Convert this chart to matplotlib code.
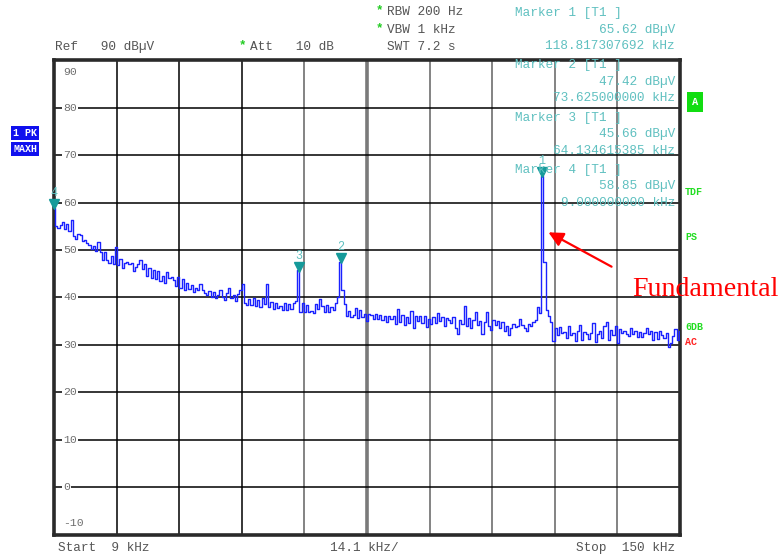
import numpy as np
import matplotlib
matplotlib.use("Agg")
import matplotlib.pyplot as plt
from matplotlib.transforms import ScaledTranslation

W, H = 784, 558
MONO = "Liberation Mono"
GREY_TXT = "#555555"
TICK_TXT = "#6e6e6e"
TEAL = "#5fc0c0"
TRACE = "#1a22ff"

# sweep: 9 ... 150 kHz, one reading per 0.5 kHz (levels in dBuV)
freq_start, freq_stop, freq_step = 9.0, 150.0, 0.5
level = [
    58.9, 55.0, 54.6, 55.2, 56.0, 54.5, 55.5, 54.0, 56.3, 53.0,
    52.4, 53.5, 53.2, 52.0, 52.2, 51.5, 51.0, 50.2, 50.8, 49.8,
    51.8, 49.5, 48.0, 49.5, 48.0, 47.2, 48.7, 47.0, 50.6, 46.8,
    48.2, 46.2, 47.2, 47.5, 47.0, 47.3, 45.6, 46.5, 47.0, 48.0,
    46.0, 47.0, 44.6, 46.2, 44.2, 45.8, 44.0, 45.5, 43.5, 44.5,
    43.0, 45.4, 44.2, 44.3, 43.6, 42.4, 44.3, 42.0, 43.8, 41.5,
    43.0, 41.8, 42.6, 41.2, 42.0, 41.6, 42.8, 41.5, 41.0, 40.5,
    41.4, 40.2, 41.2, 39.8, 40.5, 41.6, 40.0, 39.5, 41.0, 42.0,
    39.8, 40.6, 39.2, 40.8, 41.5, 42.8, 38.8, 38.5, 39.6, 38.4,
    39.8, 38.3, 39.5, 38.0, 39.8, 38.6, 42.9, 38.0, 39.0, 37.6,
    38.8, 37.8, 38.2, 37.4, 38.8, 37.3, 38.6, 37.6, 38.9, 39.2,
    45.7, 37.0, 38.8, 36.9, 38.5, 37.0, 37.2, 36.8, 38.6, 37.5,
    39.6, 38.2, 37.0, 38.5, 36.9, 38.0, 37.3, 38.8, 40.0, 47.4,
    41.5, 38.6, 36.0, 37.2, 35.9, 36.4, 37.8, 35.6, 37.3, 35.8,
    36.6, 35.0, 36.5, 36.4, 35.4, 36.6, 35.5, 36.3, 35.2, 36.2,
    34.9, 36.2, 35.5, 36.1, 34.5, 37.5, 34.8, 36.3, 34.2, 35.8,
    34.6, 37.2, 33.5, 36.0, 35.0, 36.2, 34.6, 36.0, 33.8, 35.5,
    34.4, 35.8, 34.6, 36.8, 35.0, 35.9, 34.0, 35.7, 35.2, 34.6,
    35.9, 33.6, 32.4, 35.2, 34.5, 38.3, 34.0, 35.6, 33.5, 35.2,
    37.0, 34.2, 35.0, 32.2, 34.8, 36.9, 34.0, 33.2, 35.3, 34.1,
    35.0, 33.6, 34.8, 33.0, 34.0, 32.1, 33.5, 34.5, 33.7, 34.0,
    35.4, 34.2, 33.5, 33.0, 34.4, 33.9, 34.8, 35.3, 38.0, 36.8,
    65.6, 47.4, 37.4, 36.0, 34.8, 30.9, 33.5, 32.0, 33.8, 32.5,
    32.8, 31.5, 34.0, 32.0, 32.6, 30.8, 33.0, 34.2, 31.0, 32.8,
    32.2, 31.2, 32.6, 34.6, 30.6, 32.4, 33.0, 31.4, 34.0, 34.9,
    31.0, 33.2, 32.0, 34.0, 30.3, 33.4, 32.6, 33.0, 32.4, 31.8,
    33.6, 32.2, 33.0, 31.6, 32.8, 31.6, 32.5, 33.5, 32.2, 33.0,
    31.0, 32.8, 31.2, 33.0, 32.0, 31.4, 32.6, 29.6, 30.4, 31.8,
    33.4, 31.0, 33.0,
]
freq = freq_start + freq_step * np.arange(len(level))

marker_id = ["1", "2", "3", "4"]
marker_freq = [118.817307692, 73.625, 64.134615385, 9.0]
marker_level = [65.62, 47.42, 45.66, 58.85]
marker_freq_txt = ["118.817307692 kHz", "73.625000000 kHz",
                   "64.134615385 kHz", "9.000000000 kHz"]

y_ticks = [90, 80, 70, 60, 50, 40, 30, 20, 10, 0, -10]


def fx(x):
    return x / W


def fy(y):
    return 1 - y / H


fig = plt.figure(figsize=(W / 100, H / 100), dpi=100)
ax = fig.add_axes([fx(54), fy(534.5), 626 / W, 474 / H])
ax.set_xlim(freq_start, freq_stop)
ax.set_ylim(-10, 90)
ax.set_xticks([])
ax.set_yticks([])
for s in ax.spines.values():
    s.set_linewidth(2.6)
    s.set_color("#2a2a2a")

# graticule: 10 divisions each way
xdiv = np.linspace(freq_start, freq_stop, 11)[1:-1]
for i, xv in enumerate(xdiv):
    if i < 3:
        ax.axvline(xv, color="black", lw=1.1, zorder=1)
    elif i == 4:
        ax.axvline(xv, color="#7a7a7a", lw=2.6, zorder=1)
    else:
        ax.axvline(xv, color="#7a7a7a", lw=1.3, zorder=1)
for yv in y_ticks[1:-1]:
    ax.axhline(yv, color="black", lw=1.1, zorder=1)

for yv in y_ticks:
    if yv == 90:
        yy, va = 88.6, "top"
    elif yv == -10:
        yy, va = -8.6, "bottom"
    else:
        yy, va = yv, "center"
    ax.text(11.0, yy, str(yv), family=MONO, fontsize=8.2, color=TICK_TXT,
            ha="left", va=va, zorder=3,
            bbox=dict(boxstyle="square,pad=0.12", fc="white", ec="none")
            if va == "center" else None)

ax.plot(freq, level, color=TRACE, lw=1.0, drawstyle="steps-mid", zorder=4)

# markers
up = ScaledTranslation(0, 4 / 100, fig.dpi_scale_trans)
lab = ScaledTranslation(0, 15 / 100, fig.dpi_scale_trans)
ax.plot(marker_freq, marker_level, "v", color="#159a9a", ms=7,
        transform=ax.transData + up, zorder=5, clip_on=False)
for mid, mf, ml in zip(marker_id, marker_freq, marker_level):
    ax.text(mf, ml, mid, transform=ax.transData + lab, family=MONO,
            fontsize=8.5, color=TEAL, ha="center", va="center", zorder=5)

# header texts
hdr = dict(family=MONO, fontsize=9.2, color=GREY_TXT, va="center")
fig.text(fx(55), fy(47), "Ref   90 dB\u00b5V", **hdr)
fig.text(fx(250), fy(47), "Att   10 dB", **hdr)
fig.text(fx(387), fy(12), "RBW 200 Hz", **hdr)
fig.text(fx(387), fy(30), "VBW 1 kHz", **hdr)
fig.text(fx(387), fy(47), "SWT 7.2 s", **hdr)
for xs, ys in [(242, 47), (379, 12), (379, 30)]:
    fig.text(fx(xs), fy(ys - 2), "*", family=MONO, fontsize=9,
             color="#22cc22", ha="center", va="center", weight="bold")

for k, (mid, ml, mt) in enumerate(zip(marker_id, marker_level, marker_freq_txt)):
    y0 = 13 + 52.3 * k
    mk = dict(family=MONO, fontsize=9.2, color=TEAL, va="center", zorder=6)
    fig.text(fx(515), fy(y0), f"Marker {mid} [T1 ]", ha="left", **mk)
    fig.text(fx(675), fy(y0 + 16.5), f"{ml:.2f} dB\u00b5V", ha="right", **mk)
    fig.text(fx(675), fy(y0 + 33), mt, ha="right", **mk)

# bottom line
bot = dict(family=MONO, fontsize=9.2, color=GREY_TXT, va="center")
fig.text(fx(58), fy(548), "Start  9 kHz", ha="left", **bot)
fig.text(fx(330), fy(548), "14.1 kHz/", ha="left", **bot)
fig.text(fx(675), fy(548), "Stop  150 kHz", ha="right", **bot)

# side badges
side = dict(family=MONO, fontsize=7.2, weight="bold", va="center", ha="left")
fig.text(fx(13), fy(133), "1 PK", color="white",
         bbox=dict(boxstyle="square,pad=0.2", fc="#1010ee", ec="none"), **side)
fig.text(fx(13), fy(149), "MAXH", color="white",
         bbox=dict(boxstyle="square,pad=0.2", fc="#1010ee", ec="none"), **side)
fig.text(fx(695), fy(102), "A", color="white", ha="center", va="center",
         family=MONO, fontsize=7.5, weight="bold",
         bbox=dict(boxstyle="square,pad=0.45", fc="#11dd11", ec="none"))
fig.text(fx(685), fy(192), "TDF", color="#22dd22", **side)
fig.text(fx(685), fy(237), "PS", color="#22dd22", **side)
fig.text(fx(685), fy(327), "6DB", color="#22dd22", **side)
fig.text(fx(685), fy(342), "AC", color="#ff2020", **side)

# annotation
fig.add_artist(matplotlib.patches.FancyArrowPatch(
    (fx(614), fy(268)), (fx(546), fy(231)), transform=fig.transFigure,
    arrowstyle="-|>", mutation_scale=22, color="red", lw=1.6))
fig.text(fx(632), fy(290), "Fundamental", family="Liberation Serif",
         fontsize=20.2, color="red", ha="left", va="center")

fig.savefig("out.png", dpi=100)
